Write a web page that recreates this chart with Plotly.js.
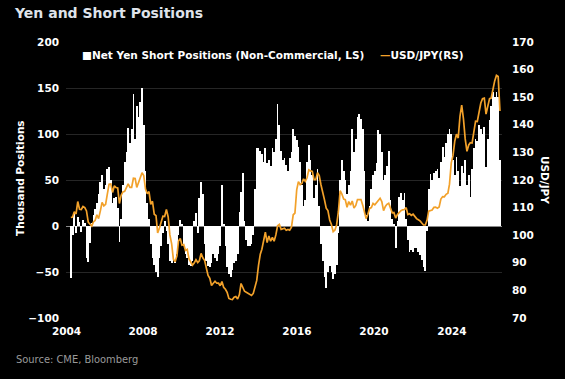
<!DOCTYPE html>
<html>
<head>
<meta charset="utf-8">
<script src="https://cdn.plot.ly/plotly-3.0.1.min.js"></script>
<style>
html,body{margin:0;padding:0;background:#000;}
#chart{width:565px;height:379px;}
</style>
</head>
<body>
<div id="chart"></div>
<script>
// Monthly observations, January 2004 to August 2024
const startYear = 2004;
const netYenShorts = [
  -57, -10, 14, -8, 10, 4, -6, 6, 3, -35, -39, -18,
  3, 12, 18, 25, 35, 48, 55, 40, 45, 62, 64, 50,
  25, 30, 32, 20, -17, 8, 45, 70, 80, 107, 90, 105,
  143, 95, 130, 118, 135, 150, 110, 60, 25, 8, -20, -35,
  -42, -50, -55, -35, -22, -8, 5, -5, -20, -38, -40, -36,
  -40, -30, -10, 6, 2, -22, -30, -35, -42, -44, -38, 5,
  14, -8, 30, 48, 35, -20, -38, -44, -45, -40, -30, -35,
  -38, -30, -22, 45, 2, -22, -45, -52, -55, -48, -40, -38,
  -30, 15, 37, 58, 5, -15, -22, -22, -20, -10, 40, 85,
  85, 82, 78, 70, 85, 68, 72, 65, 85, 80, 95, 133,
  110, 82, 72, 74, 66, 60, 74, 80, 105, 98, 94, 86,
  70, 45, 22, 28, 70, 88, 72, 55, 30, 45, 62, 22,
  -20, -38, -55, -67, -50, -44, -50, -58, -52, -42, -8, 50,
  72, 60, 50, 35, 45, 60, 105, 80, 95, 118, 122, 116,
  105, 60, 12, 5, 22, 40, 55, 60, 68, 104, 100, 80,
  50, 55, 65, 82, 28, 8, 2, -24, 5, 32, 36, 28,
  36, 8, -15, -28, -26, -28, -24, -24, -28, -32, -37, -45,
  -49, -5, 40, 56, 50, 58, 60, 62, 52, 70, 86, 75,
  90, 100, 105, 100, 72, 55, 75, 60, 43, 65, 58, 72,
  45, 55, 32, 62, 85, 95, 92, 110, 105, 100, 108, 64,
  95, 115, 130, 146, 140, 146, 140, 72
];
const usdJpy = [
  106.4, 106.6, 108.5, 107.7, 112.2, 109.4, 109.3, 110.4, 110.0, 108.8, 104.7, 103.8,
  103.3, 104.9, 105.3, 107.4, 106.0, 108.8, 111.9, 110.6, 111.2, 114.9, 118.5, 118.6,
  115.5, 117.9, 117.3, 117.1, 111.5, 114.5, 115.7, 115.9, 117.2, 118.6, 117.3, 117.3,
  120.6, 120.5, 117.3, 118.8, 120.8, 122.6, 121.6, 116.7, 115.0, 115.8, 111.2, 112.3,
  107.6, 107.1, 100.8, 102.6, 104.4, 106.9, 106.8, 109.3, 106.6, 100.1, 96.9, 91.3,
  90.4, 92.5, 97.9, 98.8, 96.4, 96.6, 94.5, 94.9, 91.4, 90.3, 89.1, 89.9,
  91.1, 90.1, 90.7, 93.4, 91.8, 90.9, 87.6, 85.4, 84.4, 81.8, 82.6, 83.3,
  82.6, 82.6, 81.7, 83.2, 81.1, 80.4, 79.3, 77.1, 76.8, 76.7, 77.5, 77.8,
  76.9, 78.5, 82.5, 81.3, 79.7, 79.3, 79.0, 78.7, 78.2, 78.9, 80.9, 83.6,
  89.1, 93.1, 94.9, 97.7, 101.1, 97.3, 99.7, 97.8, 99.2, 97.8, 100.1, 103.4,
  103.9, 102.1, 102.3, 102.5, 101.8, 102.1, 101.8, 102.9, 107.4, 108.0, 116.4, 119.4,
  118.3, 118.8, 120.4, 119.5, 120.8, 123.7, 123.3, 123.1, 120.1, 120.1, 122.6, 121.6,
  118.2, 114.7, 112.9, 109.8, 108.9, 105.5, 103.9, 101.3, 101.9, 103.8, 108.6, 116.1,
  114.9, 113.1, 112.9, 110.1, 112.2, 110.9, 112.4, 109.8, 110.8, 112.9, 112.8, 112.9,
  110.9, 107.9, 106.0, 107.6, 109.7, 110.0, 111.5, 111.0, 111.9, 112.8, 113.4, 112.2,
  108.9, 110.4, 111.2, 111.6, 110.0, 108.1, 108.2, 106.2, 107.5, 108.3, 108.9, 109.2,
  109.3, 110.0, 107.5, 107.8, 107.2, 107.6, 106.8, 106.0, 105.6, 105.2, 104.4, 103.7,
  103.7, 105.4, 108.7, 109.0, 109.1, 110.1, 110.2, 109.8, 110.2, 113.1, 114.0, 113.9,
  114.8, 115.2, 118.5, 126.2, 128.8, 134.0, 136.6, 135.2, 143.1, 147.1, 142.1, 134.9,
  130.4, 132.7, 133.5, 133.4, 137.0, 141.3, 141.2, 144.8, 147.9, 149.5, 149.7, 143.9,
  146.3, 149.5, 149.7, 153.6, 155.9, 157.9, 157.5, 145.0
];
const yearLabels = ['2004', '2008', '2012', '2016', '2020', '2024'];
const yearLabelDates = ['2003-10-31', '2007-07-02', '2011-03-12', '2014-11-20', '2018-07-31', '2022-04-27'];
const xRange = ['2003-10-22', '2024-09-20'];

const dates = netYenShorts.map((_, i) => {
  const y = startYear + Math.floor(i / 12);
  const m = (i % 12) + 1;
  return y + '-' + (m < 10 ? '0' + m : m) + '-15';
});

const W = 565, H = 379;
const mL = 66, mR = 63, mT = 42, mB = 61;
const pw = W - mL - mR, ph = H - mT - mB;
const px = x => (x - mL) / pw;
const py = y => (H - mB - y) / ph;

const ORANGE = '#f2a12a';
const fontFam = 'DejaVu Sans, Verdana, sans-serif';

const traces = [
  {
    type: 'bar', x: dates, y: netYenShorts, name: 'Net Yen Short Positions (Non-Commercial, LS)',
    marker: {color: '#ffffff', line: {width: 0}}, width: 31 * 86400000, yaxis: 'y', hoverinfo: 'x+y'
  },
  {
    type: 'scatter', mode: 'lines', x: dates, y: usdJpy, name: 'USD/JPY(RS)',
    line: {color: ORANGE, width: 1.7}, yaxis: 'y2'
  }
];

const tickFont = {family: fontFam, size: 10.5, color: '#ffffff', weight: 'bold'};
const legFont = {family: fontFam, size: 10.5, color: '#ffffff', weight: 'bold'};

const layout = {
  width: W, height: H,
  paper_bgcolor: '#000000', plot_bgcolor: '#000000',
  margin: {l: mL, r: mR, t: mT, b: mB, pad: 0},
  showlegend: false,
  bargap: 0,
  title: {
    text: 'Yen and Short Positions',
    font: {family: fontFam, size: 14, color: '#dfe3ea', weight: 'bold'},
    x: 15 / W, xanchor: 'left', xref: 'container', y: 1 - 13 / H, yanchor: 'middle', yref: 'container'
  },
  xaxis: {
    type: 'date', range: xRange, showgrid: false, zeroline: false, showline: false,
    tickmode: 'array', tickvals: yearLabelDates, ticktext: yearLabels, ticks: '',
    tickfont: tickFont, ticklabelstandoff: 5, fixedrange: true
  },
  yaxis: {
    range: [-100, 200], tickmode: 'array', tickvals: [-100, -50, 0, 50, 100, 150, 200],
    showgrid: true, gridcolor: '#262626', gridwidth: 1,
    zeroline: true, zerolinecolor: '#8a8a8a', zerolinewidth: 1,
    showline: false, ticks: '', tickfont: tickFont, ticklabelstandoff: 6, fixedrange: true
  },
  yaxis2: {
    range: [70, 170], overlaying: 'y', side: 'right', tickmode: 'array',
    tickvals: [70, 80, 90, 100, 110, 120, 130, 140, 150, 160, 170],
    showgrid: false, zeroline: false, showline: false, ticks: '',
    tickfont: tickFont, ticklabelstandoff: 9, fixedrange: true
  },
  annotations: [
    {
      text: '<span style="color:#ffffff">■</span>Net Yen Short Positions (Non-Commercial, LS)',
      xref: 'paper', yref: 'paper', x: px(80), y: py(55), xanchor: 'left', yanchor: 'middle',
      showarrow: false, font: legFont
    },
    {
      text: '<span style="color:' + ORANGE + '">—</span>USD/JPY(RS)',
      xref: 'paper', yref: 'paper', x: px(378), y: py(55), xanchor: 'left', yanchor: 'middle',
      showarrow: false, font: legFont
    },
    {
      text: 'Thousand Positions', textangle: -90,
      xref: 'paper', yref: 'paper', x: px(20), y: py(178), xanchor: 'center', yanchor: 'middle',
      showarrow: false, font: {family: fontFam, size: 10.5, color: '#ffffff', weight: 'bold'}
    },
    {
      text: 'USD/JPY', textangle: 90,
      xref: 'paper', yref: 'paper', x: px(545), y: py(180), xanchor: 'center', yanchor: 'middle',
      showarrow: false, font: {family: fontFam, size: 10.5, color: '#ffffff', weight: 'bold'}
    },
    {
      text: 'Source: CME, Bloomberg',
      xref: 'paper', yref: 'paper', x: px(14), y: py(359), xanchor: 'left', yanchor: 'middle',
      showarrow: false, font: {family: 'DejaVu Sans Condensed, DejaVu Sans, sans-serif', size: 11, color: '#9a9a9a'}
    }
  ]
};

Plotly.newPlot('chart', traces, layout, {displayModeBar: false, staticPlot: true});
</script>
</body>
</html>
